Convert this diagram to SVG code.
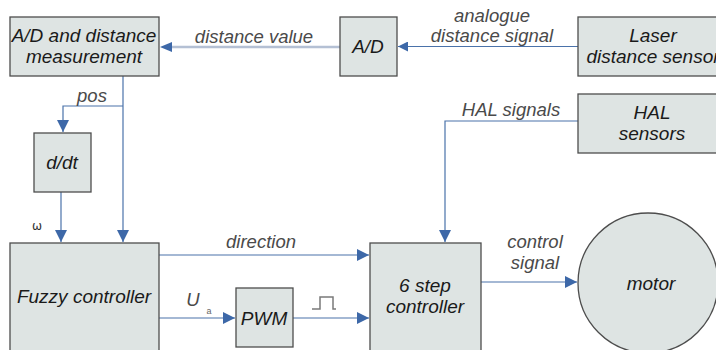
<svg xmlns="http://www.w3.org/2000/svg" width="716" height="350" viewBox="0 0 716 350">
<style>
.box{fill:#dee4e3;stroke:#4d4d4d;stroke-width:1.3}
.bt{font-family:"Liberation Sans",Arial,sans-serif;font-style:italic;font-size:19px;fill:#1a1a1a;text-anchor:middle}
.lt{font-family:"Liberation Sans",Arial,sans-serif;font-style:italic;font-size:18.5px;fill:#4a4a4a;text-anchor:middle}
.ln{fill:none;stroke:#4a72aa;stroke-width:1.2}
.lnl{fill:none;stroke:#b4c0d4;stroke-width:2.5}
</style>
<defs>
<marker id="ah" viewBox="0 0 10 10" refX="10" refY="5" markerWidth="10" markerHeight="10" markerUnits="userSpaceOnUse" orient="auto">
<path d="M0,0 L10,5 L0,10 z" fill="#3d68a8"/>
</marker>
<marker id="ah2" viewBox="0 0 10 10" refX="10" refY="5" markerWidth="12" markerHeight="12" markerUnits="userSpaceOnUse" orient="auto">
<path d="M0,0 L10,5 L0,10 z" fill="#3d68a8"/>
</marker>
</defs>
<g id="connectors">
<path class="ln" d="M578,46.5 H398" marker-end="url(#ah)"/>
<path class="lnl" d="M340,47 H172"/>
<path d="M172,42 L160,47 L172,52 z" fill="#3d68a8"/>
<path class="ln" d="M123,76 V242" marker-end="url(#ah2)"/>
<path class="ln" d="M123,106 H63 V132" marker-end="url(#ah2)"/>
<path class="ln" d="M61,192 V242" marker-end="url(#ah2)"/>
<path class="ln" d="M159,255 H369" marker-end="url(#ah2)"/>
<path class="ln" d="M159,318 H235" marker-end="url(#ah2)"/>
<path class="ln" d="M293,318 H369" marker-end="url(#ah2)"/>
<path class="ln" d="M578,121 H445 V242" marker-end="url(#ah2)"/>
<path class="ln" d="M481,282 H577" marker-end="url(#ah2)"/>
<path d="M312,309 H320 V297 H333 V309 H336" fill="none" stroke="#7a7a7a" stroke-width="1.5"/>
<text class="lt" x="492" y="22">analogue</text>
<text class="lt" x="492" y="42">distance signal</text>
<text class="lt" x="254" y="43">distance value</text>
<text class="lt" x="92" y="102">pos</text>
<text x="37" y="230" font-family="DejaVu Sans,sans-serif" font-size="12" fill="#333" text-anchor="middle">ω</text>
<text class="lt" x="261" y="248">direction</text>
<text class="lt" x="193" y="306">U</text>
<text x="209" y="314" font-family="Liberation Sans,Arial,sans-serif" font-size="9" fill="#666" text-anchor="middle">a</text>
<text class="lt" x="511" y="116">HAL signals</text>
<text class="lt" x="535" y="248">control</text>
<text class="lt" x="535" y="269">signal</text>
</g>
<g id="ad-dist">
<rect class="box" x="10" y="17" width="149" height="59"/>
<text class="bt" x="84" y="42">A/D and distance</text>
<text class="bt" x="84" y="63">measurement</text>
</g>
<g id="ad">
<rect class="box" x="340" y="17" width="57" height="59"/>
<text class="bt" x="368" y="53">A/D</text>
</g>
<g id="laser">
<rect class="box" x="578" y="17" width="150" height="59"/>
<text class="bt" x="653" y="42">Laser</text>
<text class="bt" x="653" y="63">distance sensor</text>
</g>
<g id="hal">
<rect class="box" x="578" y="94" width="150" height="59"/>
<text class="bt" x="652" y="119">HAL</text>
<text class="bt" x="652" y="140">sensors</text>
</g>
<g id="ddt">
<rect class="box" x="34" y="133" width="57" height="59"/>
<text class="bt" x="62" y="169">d/dt</text>
</g>
<g id="fuzzy">
<rect class="box" x="10" y="243" width="149" height="120"/>
<text class="bt" x="84" y="303">Fuzzy controller</text>
</g>
<g id="pwm">
<rect class="box" x="236" y="288" width="57" height="59"/>
<text class="bt" x="264" y="325">PWM</text>
</g>
<g id="sixstep">
<rect class="box" x="370" y="243" width="111" height="120"/>
<text class="bt" x="425" y="292">6 step</text>
<text class="bt" x="425" y="313">controller</text>
</g>
<g id="motor">
<circle class="box" cx="648" cy="283" r="70"/>
<text class="bt" x="651" y="290">motor</text>
</g>
</svg>
